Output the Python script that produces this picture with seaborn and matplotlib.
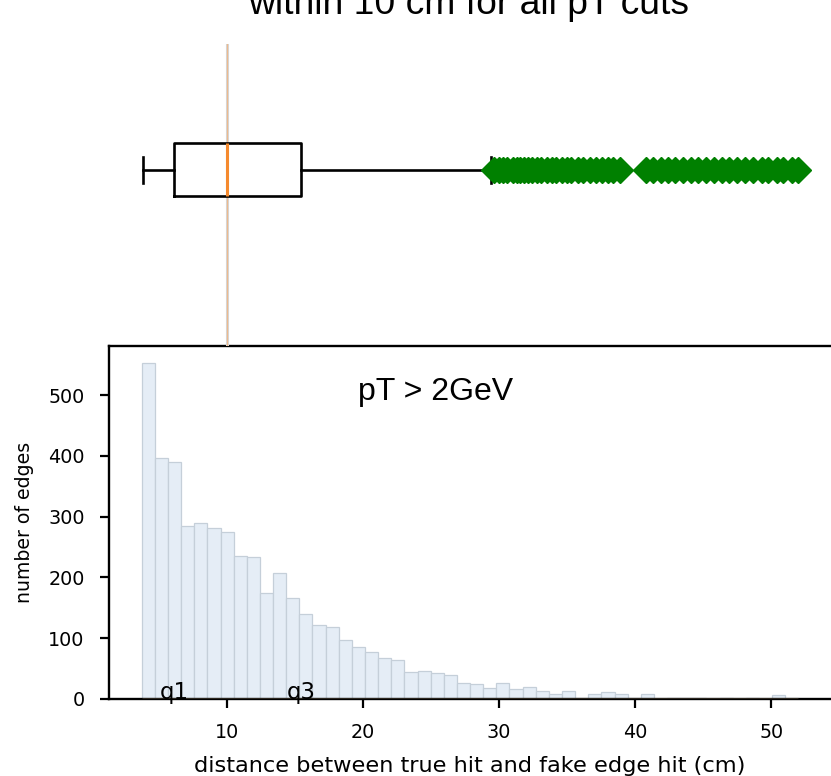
import numpy as np
import pandas as pd
import matplotlib
matplotlib.use("Agg")
import matplotlib.pyplot as plt
import seaborn as sns

# Histogram of the distance between the true hit and the fake-edge hit (pT > 2 GeV)
dist_min, dist_max, n_bins = 3.73, 52.0, 50
edge_counts = [552, 397, 389, 284, 289, 281, 275, 235, 234, 174,
               207, 166, 140, 121, 118, 97, 86, 77, 67, 64,
               44, 46, 43, 40, 26, 24, 18, 26, 16, 20,
               13, 8, 13, 2, 9, 11, 8, 1, 8, 0,
               2, 2, 1, 0, 1, 0, 1, 0, 6, 1]

# Box summary over all pT cuts
box_whislo = 3.82
box_q1 = 6.1
box_median = 10.0
box_q3 = 15.44
box_whishi = 29.4
box_fliers = [29.6, 30.0, 30.3, 30.6, 31.0, 31.3, 31.5, 31.8, 32.1, 32.4,
              32.8, 33.1, 33.5, 33.9, 34.2, 34.6, 35.0, 35.3, 35.8, 36.2,
              36.7, 37.1, 37.6, 38.0, 38.4, 38.9,
              40.8, 41.3, 41.9, 42.4, 42.9, 43.5, 44.1, 44.6, 45.2, 45.8,
              46.4, 46.9, 47.5, 48.1, 48.7, 49.3, 49.8, 50.4, 50.9, 51.5, 52.0]

title_text = "within 10 cm for all pT cuts"
cut_label = "pT > 2GeV"
x_label = "distance between true hit and fake edge hit (cm)"
y_label = "number of edges"

edges = np.linspace(dist_min, dist_max, n_bins + 1)
centers = 0.5 * (edges[:-1] + edges[1:])
hist_df = pd.DataFrame({"dist": centers, "count": edge_counts})

W, H = 831, 776
fig = plt.figure(figsize=(W / 100, H / 100), dpi=100)

ax_hist = fig.add_axes([109 / W, 77 / H, 722 / W, 353 / H])
ax_box = fig.add_axes([109 / W, 430 / H, 722 / W, 302 / H], sharex=ax_hist)

# --- histogram ---
sns.histplot(data=hist_df, x="dist", weights="count", bins=list(edges), ax=ax_hist,
             color="#e5edf6", edgecolor="#c5cfd9", linewidth=0.9, alpha=1.0)
ax_hist.hlines(0.8, edges[0], edges[-1], color="#e9c9a2", lw=1.0, zorder=3)
ax_hist.set_xlim(1.32, 54.4)
ax_hist.set_ylim(0, 580.6)
ax_hist.set_yticks([0, 100, 200, 300, 400, 500])
ax_hist.set_xticks([10, 20, 30, 40, 50])
ax_hist.tick_params(axis="both", labelsize=13.8, length=6.5, width=1.6, pad=11,
                    direction="out")
for side in ("left", "bottom", "top"):
    ax_hist.spines[side].set_linewidth(1.7)
ax_hist.spines["right"].set_visible(False)
ax_hist.set_xlabel(x_label, fontsize=16.2, labelpad=10)
ax_hist.set_ylabel(y_label, fontsize=13.6, labelpad=10)

ax_hist.text(box_q1, 0, "q1", ha="center", va="baseline", fontsize=16.5)
ax_hist.text(box_q3, 0, "q3", ha="center", va="baseline", fontsize=16.5)
ax_hist.text(19.6, 492, cut_label, ha="left", va="baseline", fontsize=23,
             family="Liberation Sans")

# --- box plot ---
stats = [dict(med=box_median, q1=box_q1, q3=box_q3, whislo=box_whislo,
              whishi=box_whishi, fliers=np.array(box_fliers))]
ax_box.axvline(box_median, color="#d6d6d6", lw=2.2, zorder=0)
ax_box.axvline(box_median, color="#f2b47c", lw=0.8, alpha=0.8, zorder=0)
line_kw = dict(color="black", linewidth=1.9)
ax_box.bxp(stats, positions=[1], widths=0.21, vert=False,
           boxprops=line_kw, whiskerprops=line_kw, capprops=line_kw,
           medianprops=dict(color="#f58a2e", linewidth=2.2),
           flierprops=dict(marker="D", markerfacecolor="green",
                           markeredgecolor="green", markersize=13.5))
ax_box.set_ylim(0.3, 1.5)
ax_box.set_axis_off()

fig.text(468.5 / W, 1 - 14 / H, title_text, ha="center", va="baseline",
         fontsize=26.8, family="Liberation Sans")

fig.savefig("out.png", dpi=100)
